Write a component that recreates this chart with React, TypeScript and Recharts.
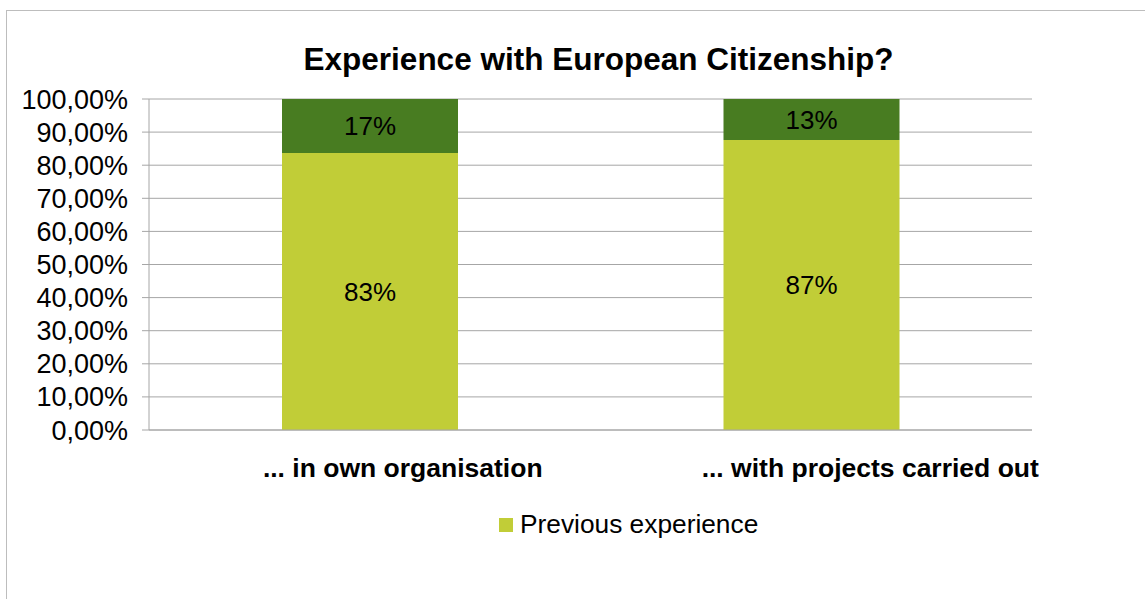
import { BarChart, Bar, XAxis, YAxis, CartesianGrid, LabelList } from 'recharts'

const categories = ['... in own organisation', '... with projects carried out']
const previousExperience = [83.7, 87.6]
const noExperience = [16.3, 12.4]
const previousLabels = ['83%', '87%']
const noLabels = ['17%', '13%']
const yTicks = [0, 10, 20, 30, 40, 50, 60, 70, 80, 90, 100]

const LIGHT = '#c1cd37'
const DARK = '#487c21'
const GRID = '#a6a6a6'
const FONT = '"Liberation Sans", Arial, sans-serif'

// Excel put the category labels a bit right of the bar centres
const TICK_NUDGE = [33, 59]

const data = categories.map((name, i) => ({
  name,
  prev: previousExperience[i],
  none: noExperience[i],
  prevLabel: previousLabels[i],
  noneLabel: noLabels[i],
}))

const CategoryTick = (props: any) => {
  const { x, y, payload, index } = props
  return (
    <text x={x + (TICK_NUDGE[index] ?? 0)} y={y} dy="0.71em" textAnchor="middle"
      fontSize={26.5} fontWeight="bold" fill="#000" fontFamily={FONT}>
      {payload.value}
    </text>
  )
}

export default function App() {
  return (
    <div style={{ position: 'fixed', left: 0, top: 0, width: 1145, height: 599, background: '#fff', overflow: 'hidden' }}>
      <div style={{ position: 'absolute', left: 6, top: 10, width: 1300, height: 800, borderLeft: '1px solid #bdbdbd', borderTop: '1px solid #bdbdbd' }} />
      <div style={{ position: 'absolute', left: 0, top: 41, width: 1197, textAlign: 'center', fontFamily: FONT, fontWeight: 'bold', fontSize: 31.5, color: '#000' }}>
        Experience with European Citizenship?
      </div>
      <div style={{ position: 'absolute', left: 0, top: 0 }}>
        <BarChart width={1145} height={599} data={data} barSize={176}
          margin={{ top: 99, right: 113, bottom: 109, left: 0 }}>
          <CartesianGrid vertical={false} stroke={GRID} />
          <XAxis dataKey="name" height={60} tickLine={false} axisLine={{ stroke: GRID }}
            tickMargin={22} tick={<CategoryTick />} interval={0} />
          <YAxis width={149} domain={[0, 100]} ticks={yTicks} interval={0}
            tickFormatter={(v: number) => v.toFixed(2).replace('.', ',') + '%'}
            axisLine={{ stroke: GRID }} tickLine={{ stroke: GRID }} tickSize={7} tickMargin={14}
            tick={{ fontSize: 27, fill: '#000', fontFamily: FONT }} />
          <Bar dataKey="prev" stackId="a" fill={LIGHT} isAnimationActive={false} name="Previous experience">
            <LabelList dataKey="prevLabel" position="center" fill="#000" fontSize={26} fontFamily={FONT} />
          </Bar>
          <Bar dataKey="none" stackId="a" fill={DARK} isAnimationActive={false} legendType="none">
            <LabelList dataKey="noneLabel" position="center" fill="#000" fontSize={26} fontFamily={FONT} />
          </Bar>
        </BarChart>
      </div>
      {/* legend: only the light series is listed in the original */}
      <div style={{ position: 'absolute', left: 499, top: 509, display: 'flex', alignItems: 'center', fontFamily: FONT, fontSize: 26.3, color: '#000' }}>
        <span style={{ width: 14, height: 14, background: LIGHT, display: 'inline-block', marginRight: 7 }} />
        Previous experience
      </div>
    </div>
  )
}
